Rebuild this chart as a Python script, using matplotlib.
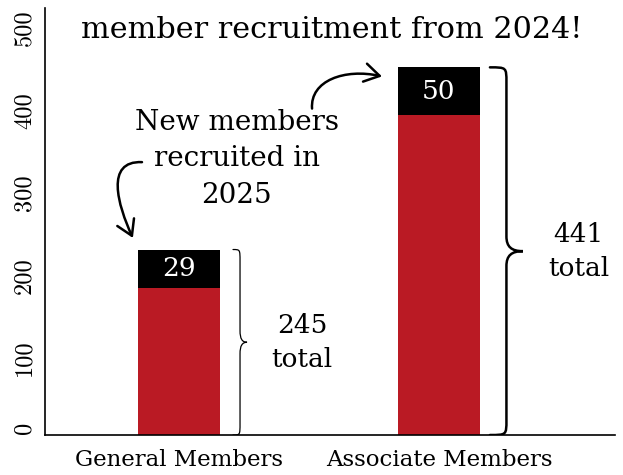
import numpy as np
import matplotlib
matplotlib.use("Agg")
import matplotlib.pyplot as plt
from matplotlib.path import Path
from matplotlib.patches import PathPatch, FancyArrowPatch
from matplotlib.transforms import blended_transform_factory

# values
categories = ["General Members", "Associate Members"]
members_2024 = [178, 388]   # red part of each bar
new_2025 = [47, 58]         # black part on top
new_labels = ["29", "50"]
total_labels = ["245", "441"]
yticks = [0, 100, 200, 300, 400, 500]

RED = "#BA1A24"
SERIF = "DejaVu Serif"
plt.rcParams["font.family"] = SERIF

fig = plt.figure(figsize=(6.23, 4.75), dpi=100)
ax = fig.add_axes([45 / 623, 40 / 475, 570 / 623, 427 / 475])

x = np.arange(len(categories))
w = 0.315
totals = np.array(members_2024) + np.array(new_2025)

ax.bar(x, members_2024, w, color=RED)
ax.bar(x, new_2025, w, bottom=members_2024, color="black")
ax.set_xlim(-0.515, 1.677)
ax.set_ylim(0, 518)

for s in ["top", "right"]:
    ax.spines[s].set_visible(False)
for s in ["left", "bottom"]:
    ax.spines[s].set_linewidth(1.2)

# category labels
ax.set_xticks(x, categories)
ax.tick_params(axis="x", length=0, pad=10, labelsize=16.5)

# y tick labels, rotated and hung from the tick
ax.set_yticks(yticks)
ax.tick_params(axis="y", length=0, labelleft=False)
ytrans = blended_transform_factory(ax.transAxes, ax.transData)
for v in yticks:
    ax.text(-0.036, v + 16, str(v), transform=ytrans, rotation=90,
            ha="center", va="top", fontsize=17.5, family="cmr10")

# numbers inside the black boxes
for xi, m, n, lab in zip(x, members_2024, new_2025, new_labels):
    ax.text(xi, m + n / 2, lab, color="white", ha="center", va="center",
            fontsize=19)


def brace(xl, xr, y0, y1, ry, lw):
    xm = (xl + xr) / 2
    ym = (y0 + y1) / 2
    verts = [(xl, y1), (xm, y1), (xm, y1), (xm, y1 - ry),
             (xm, ym + ry),
             (xm, ym + ry * 0.3), (xm + (xr - xm) * 0.3, ym), (xr, ym),
             (xm + (xr - xm) * 0.3, ym), (xm, ym - ry * 0.3), (xm, ym - ry),
             (xm, y0 + ry),
             (xm, y0), (xm, y0), (xl, y0)]
    codes = [Path.MOVETO, Path.CURVE4, Path.CURVE4, Path.CURVE4,
             Path.LINETO,
             Path.CURVE4, Path.CURVE4, Path.CURVE4,
             Path.CURVE4, Path.CURVE4, Path.CURVE4,
             Path.LINETO,
             Path.CURVE4, Path.CURVE4, Path.CURVE4]
    ax.add_patch(PathPatch(Path(verts, codes), fill=False, lw=lw,
                           color="black", capstyle="round"))


brace(x[0] + 0.208, x[0] + 0.262, 0, totals[0], 14, 0.9)
brace(x[1] + 0.196, x[1] + 0.323, 0, totals[1], 18, 1.8)

ax.text(x[0] + 0.473, totals[0] / 2, total_labels[0] + "\ntotal",
        ha="center", va="center", fontsize=19, linespacing=1.45)
ax.text(x[1] + 0.538, totals[1] / 2, total_labels[1] + "\ntotal",
        ha="center", va="center", fontsize=19, linespacing=1.45)

# annotation with the two curved arrows
ax.text(x[0] + 0.223, 335, "New members\nrecruited in\n2025",
        ha="center", va="center", fontsize=20, linespacing=1.45)

arrow_style = "->,head_length=0.9,head_width=0.55"
p1 = Path([(x[0] - 0.142, 331), (x[0] - 0.285, 333), (x[0] - 0.235, 279),
           (x[0] - 0.177, totals[0] + 14)],
          [Path.MOVETO, Path.CURVE4, Path.CURVE4, Path.CURVE4])
ax.add_patch(FancyArrowPatch(path=p1, arrowstyle=arrow_style, lw=1.8,
                             color="black", mutation_scale=12))
p2 = Path([(x[1] - 0.488, 396), (x[1] - 0.496, 430), (x[1] - 0.362, 445),
           (x[1] - 0.219, totals[1] - 11)],
          [Path.MOVETO, Path.CURVE4, Path.CURVE4, Path.CURVE4])
ax.add_patch(FancyArrowPatch(path=p2, arrowstyle=arrow_style, lw=1.8,
                             color="black", mutation_scale=12))

fig.text(332 / 623, 1 - 30 / 475, "member recruitment from 2024!",
         ha="center", va="center", fontsize=21.8)

fig.savefig("out.png", dpi=100)
